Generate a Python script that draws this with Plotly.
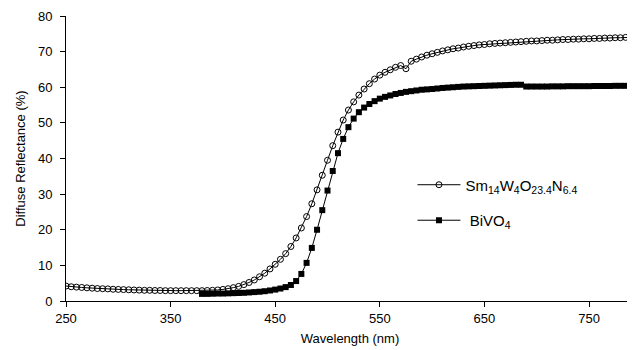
import plotly.graph_objects as go

# Sm14W4O23.4N6.4 (open circles), 250-790 nm, 5 nm step
sm_wl = list(range(250, 795, 5))
sm_r = [4.2, 4.0, 3.9, 3.8, 3.7, 3.6, 3.5, 3.45, 3.4, 3.3,
        3.25, 3.2, 3.15, 3.1, 3.05, 3.0, 3.0, 2.95, 2.95, 2.9,
        2.9, 2.9, 2.9, 2.9, 2.9, 2.9, 2.9, 2.95, 3.0, 3.1,
        3.25, 3.45, 3.75, 4.1, 4.6, 5.2, 5.9, 6.8, 7.8, 9.0,
        10.3, 11.7, 13.3, 15.3, 17.7, 20.5, 23.7, 27.3, 31.2, 35.3,
        39.5, 43.6, 47.4, 50.8, 53.6, 55.9, 57.8, 59.5, 61.0, 62.3,
        63.4, 64.2, 64.9, 65.6, 66.1, 65.2, 67.3, 67.9, 68.5, 69.0,
        69.4, 69.8, 70.2, 70.5, 70.8, 71.0, 71.3, 71.5, 71.7, 71.9,
        72.0, 72.2, 72.3, 72.4, 72.5, 72.6, 72.7, 72.8, 72.9, 73.0,
        73.0, 73.1, 73.2, 73.2, 73.3, 73.4, 73.4, 73.5, 73.5, 73.6,
        73.6, 73.7, 73.7, 73.8, 73.8, 73.9, 73.9, 74.0, 74.0, 74.1]

# BiVO4 (filled squares), 380-790 nm, 5 nm step
bi_wl = list(range(380, 795, 5))
bi_r = [2.0, 2.0, 2.05, 2.1, 2.1, 2.15, 2.2, 2.25, 2.3, 2.4,
        2.5, 2.6, 2.75, 2.95, 3.2, 3.5, 3.9, 4.5, 5.6, 7.6,
        10.7, 14.9, 20.0, 25.5, 31.0, 36.5, 41.5, 45.5, 48.8, 51.2,
        53.0, 54.3, 55.3, 56.1, 56.8, 57.3, 57.7, 58.1, 58.4, 58.7,
        58.9, 59.1, 59.3, 59.4, 59.5, 59.65, 59.8, 59.9, 60.0, 60.1,
        60.2, 60.25, 60.3, 60.35, 60.4, 60.45, 60.5, 60.55, 60.6, 60.65,
        60.7, 60.7, 60.2, 60.2, 60.2, 60.2, 60.2, 60.25, 60.25, 60.25,
        60.3, 60.3, 60.3, 60.3, 60.3, 60.35, 60.35, 60.35, 60.35, 60.4,
        60.4, 60.4, 60.4]

x_ticks = [250, 350, 450, 550, 650, 750]
y_ticks = [0, 10, 20, 30, 40, 50, 60, 70, 80]

font = "Liberation Sans, Arial, sans-serif"

fig = go.Figure()
fig.add_trace(go.Scatter(
    x=sm_wl, y=sm_r, mode="lines+markers",
    name="Sm<sub>14</sub>W<sub>4</sub>O<sub>23.4</sub>N<sub>6.4</sub>",
    line=dict(color="black", width=1),
    marker=dict(symbol="circle-open", size=6, color="black", line=dict(width=1, color="black")),
    legendgroup="a"))
fig.add_trace(go.Scatter(
    x=bi_wl, y=bi_r, mode="lines+markers",
    name="\u00a0BiVO<sub>4</sub>",
    line=dict(color="black", width=1),
    marker=dict(symbol="square", size=6, color="black"),
    legendgroup="b"))

# page body has an 8px default margin; size the figure to fill the rest
fig.update_layout(
    width=627, height=342,
    margin=dict(l=58, r=1, t=8, b=49),
    paper_bgcolor="white", plot_bgcolor="white",
    font=dict(family=font, size=13, color="black"),
    showlegend=True,
    legend=dict(x=0.61, y=0.465, xanchor="left", yanchor="top",
                font=dict(size=15), tracegroupgap=13, itemwidth=43,
                bgcolor="rgba(0,0,0,0)"),
)
fig.update_xaxes(
    range=[250, 793], tickvals=x_ticks, ticks="outside", ticklen=5,
    tickcolor="black", showline=True, linecolor="black", linewidth=1,
    showgrid=False, zeroline=False,
    title=dict(text="Wavelength (nm)", font=dict(size=13), standoff=9),
    tickfont=dict(size=13))
fig.update_yaxes(
    range=[0, 80], tickvals=y_ticks, ticks="outside", ticklen=5,
    tickcolor="black", showline=True, linecolor="black", linewidth=1,
    showgrid=False, zeroline=False, ticklabelstandoff=5,
    title=dict(text="Diffuse Reflectance (%)", font=dict(size=13), standoff=9),
    tickfont=dict(size=13))

fig.write_html("out.html")
